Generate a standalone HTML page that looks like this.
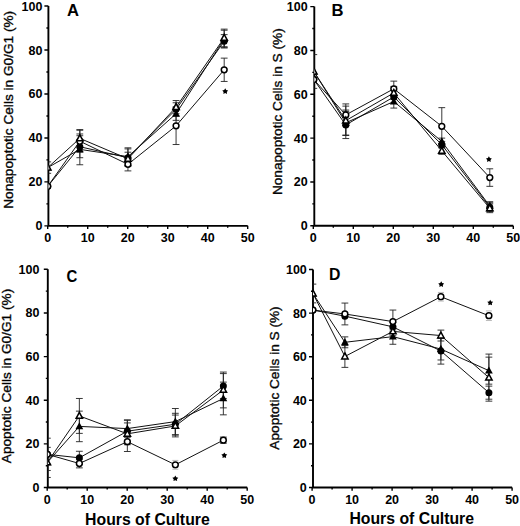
<!DOCTYPE html>
<html><head><meta charset="utf-8"><style>
html,body{margin:0;padding:0;background:#fff;}
svg{display:block;}
text{font-family:"Liberation Sans",sans-serif;fill:#000;}
.tl{font-size:12.5px;font-weight:bold;}
.yt{font-size:13.65px;stroke:#111;stroke-width:0.35px;}
.pl{font-size:15.5px;font-weight:bold;}
.xt{font-size:15.8px;font-weight:bold;}
.st{font-size:12px;font-weight:bold;}
.ax{fill:none;stroke:#000;stroke-width:1.9;}
.tk{fill:none;stroke:#000;stroke-width:1.4;}
.ln{fill:none;stroke:#111;stroke-width:1;}
.eb{fill:none;stroke:#222;stroke-width:0.9;}
.oc{fill:#fff;stroke:#000;stroke-width:1.5;}
.fc{fill:#000;stroke:none;}
.lt{fill:none;stroke:#bbb;stroke-width:1;}
</style></head><body>
<svg width="520" height="526" viewBox="0 0 520 526">
<path d="M48.4 6.05V225.85H247.7" class="ax"/>
<path d="M48.4 225.85h-4M48.4 203.87h-2M48.4 181.89h-4M48.4 159.91h-2M48.4 137.93h-4M48.4 115.95h-2M48.4 93.97h-4M48.4 71.99h-2M48.4 50.01h-4M48.4 28.03h-2M48.4 6.05h-4M47.7 225.85v3.2M67.7 225.85v2M87.7 225.85v3.2M107.7 225.85v2M127.7 225.85v3.2M147.7 225.85v2M167.7 225.85v3.2M187.7 225.85v2M207.7 225.85v3.2M227.7 225.85v2M247.7 225.85v3.2" class="tk"/>
<text x="42.4" y="230.35" class="tl" text-anchor="end">0</text>
<text x="42.4" y="186.39" class="tl" text-anchor="end">20</text>
<text x="42.4" y="142.43" class="tl" text-anchor="end">40</text>
<text x="42.4" y="98.47" class="tl" text-anchor="end">60</text>
<text x="42.4" y="54.51" class="tl" text-anchor="end">80</text>
<text x="42.4" y="10.55" class="tl" text-anchor="end">100</text>
<text x="47.7" y="242.45" class="tl" text-anchor="middle">0</text>
<text x="87.7" y="242.45" class="tl" text-anchor="middle">10</text>
<text x="127.7" y="242.45" class="tl" text-anchor="middle">20</text>
<text x="167.7" y="242.45" class="tl" text-anchor="middle">30</text>
<text x="207.7" y="242.45" class="tl" text-anchor="middle">40</text>
<text x="247.7" y="242.45" class="tl" text-anchor="middle">50</text>
<text transform="translate(12.8 109.8) rotate(-90)" class="yt" text-anchor="middle">Nonapoptotic Cells in G0/G1 (%)</text>
<text transform="translate(67 15.6) scale(1 1)" class="pl" style="font-size:16.6px">A</text>
<clipPath id="cpA"><rect x="48.4" y="-3.95" width="209.85" height="229.8"/></clipPath>
<g clip-path="url(#cpA)">
<polyline points="47.75,186.29 79.83,141.23 127.95,164.31 176.07,125.84 224.19,69.79" class="ln"/>
<polyline points="47.75,186.29 79.83,146.72 127.95,157.71 176.07,109.36 224.19,41.22" class="ln"/>
<polyline points="47.75,167.6 79.83,149.36 127.95,156.61 176.07,113.75 224.19,39.02" class="ln"/>
<polyline points="47.75,167.6 79.83,138.37 127.95,158.81 176.07,107.16 224.19,37.92" class="ln"/>
<path d="M79.83 130.24V152.22M76.43 130.24H83.23M76.43 152.22H83.23M127.95 157.71V170.9M124.55 157.71H131.35M124.55 170.9H131.35M176.07 107.16V144.52M172.67 107.16H179.47M172.67 144.52H179.47M224.19 58.14V81.44M220.79 58.14H227.59M220.79 81.44H227.59" class="eb"/>
<path d="M79.83 135.73V157.71M76.43 135.73H83.23M76.43 157.71H83.23M127.95 148.92V166.5M124.55 148.92H131.35M124.55 166.5H131.35M176.07 102.76V115.95M172.67 102.76H179.47M172.67 115.95H179.47M224.19 34.62V47.81M220.79 34.62H227.59M220.79 47.81H227.59" class="eb"/>
<path d="M79.83 133.97V164.75M76.43 133.97H83.23M76.43 164.75H83.23M127.95 147.82V165.41M124.55 147.82H131.35M124.55 165.41H131.35M176.07 107.16V120.35M172.67 107.16H179.47M172.67 120.35H179.47M224.19 30.23V47.81M220.79 30.23H227.59M220.79 47.81H227.59" class="eb"/>
<path d="M47.75 161.89V173.32M48.4 161.89H51.15M48.4 173.32H51.15M79.83 129.58V147.16M76.43 129.58H83.23M76.43 147.16H83.23M127.95 152.22V165.41M124.55 152.22H131.35M124.55 165.41H131.35M176.07 100.56V113.75M172.67 100.56H179.47M172.67 113.75H179.47M224.19 29.13V46.71M220.79 29.13H227.59M220.79 46.71H227.59" class="eb"/>
<circle cx="47.75" cy="186.29" r="3.5" class="fc"/>
<circle cx="79.83" cy="146.72" r="3.5" class="fc"/>
<circle cx="127.95" cy="157.71" r="3.5" class="fc"/>
<circle cx="176.07" cy="109.36" r="3.5" class="fc"/>
<circle cx="224.19" cy="41.22" r="3.5" class="fc"/>
<path d="M47.75 163.4L51.65 170.5H43.85Z" class="fc"/>
<path d="M79.83 145.16L83.73 152.26H75.93Z" class="fc"/>
<path d="M127.95 152.41L131.85 159.51H124.05Z" class="fc"/>
<path d="M176.07 109.55L179.97 116.65H172.17Z" class="fc"/>
<path d="M224.19 34.82L228.09 41.92H220.29Z" class="fc"/>
<circle cx="47.75" cy="186.29" r="2.9" class="oc"/>
<circle cx="79.83" cy="141.23" r="2.9" class="oc"/>
<circle cx="127.95" cy="164.31" r="2.9" class="oc"/>
<circle cx="176.07" cy="125.84" r="2.9" class="oc"/>
<circle cx="224.19" cy="69.79" r="2.9" class="oc"/>
<path d="M47.75 164.1L50.95 170H44.55Z" class="oc"/>
<path d="M79.83 134.87L83.03 140.77H76.63Z" class="oc"/>
<path d="M127.95 155.31L131.15 161.21H124.75Z" class="oc"/>
<path d="M176.07 103.66L179.27 109.56H172.87Z" class="oc"/>
<path d="M224.19 34.42L227.39 40.32H220.99Z" class="oc"/>
</g>
<polygon points="225.2,88.3 226.2,90.02 228.15,90.44 226.82,91.93 227.02,93.91 225.2,93.1 223.38,93.91 223.58,91.93 222.25,90.44 224.2,90.02" class="fc"/>
<path d="M314.3 6.6V225.8H513.3" class="ax"/>
<path d="M314.3 225.8h-4M314.3 203.88h-2M314.3 181.96h-4M314.3 160.04h-2M314.3 138.12h-4M314.3 116.2h-2M314.3 94.28h-4M314.3 72.36h-2M314.3 50.44h-4M314.3 28.52h-2M314.3 6.6h-4M313.3 225.8v3.2M333.3 225.8v2M353.3 225.8v3.2M373.3 225.8v2M393.3 225.8v3.2M413.3 225.8v2M433.3 225.8v3.2M453.3 225.8v2M473.3 225.8v3.2M493.3 225.8v2M513.3 225.8v3.2" class="tk"/>
<text x="307.7" y="230.3" class="tl" text-anchor="end">0</text>
<text x="307.7" y="186.46" class="tl" text-anchor="end">20</text>
<text x="307.7" y="142.62" class="tl" text-anchor="end">40</text>
<text x="307.7" y="98.78" class="tl" text-anchor="end">60</text>
<text x="307.7" y="54.94" class="tl" text-anchor="end">80</text>
<text x="307.7" y="11.1" class="tl" text-anchor="end">100</text>
<text x="313.3" y="242.4" class="tl" text-anchor="middle">0</text>
<text x="353.3" y="242.4" class="tl" text-anchor="middle">10</text>
<text x="393.3" y="242.4" class="tl" text-anchor="middle">20</text>
<text x="433.3" y="242.4" class="tl" text-anchor="middle">30</text>
<text x="473.3" y="242.4" class="tl" text-anchor="middle">40</text>
<text x="513.3" y="242.4" class="tl" text-anchor="middle">50</text>
<text transform="translate(282.2 111.7) rotate(-90)" class="yt" text-anchor="middle">Nonapoptotic Cells in S (%)</text>
<text transform="translate(331.6 16.2) scale(1 1)" class="pl" style="font-size:16.6px">B</text>
<clipPath id="cpB"><rect x="314.3" y="-3.4" width="209.5" height="229.2"/></clipPath>
<g clip-path="url(#cpB)">
<polyline points="313.8,79.59 345.8,114.88 393.8,88.8 441.8,126.28 489.8,177.58" class="ln"/>
<polyline points="313.8,79.59 345.8,124.97 393.8,96.91 441.8,144.7 489.8,207.17" class="ln"/>
<polyline points="313.8,71.48 345.8,122.78 393.8,101.51 441.8,141.41 489.8,206.07" class="ln"/>
<polyline points="313.8,71.48 345.8,120.58 393.8,92.96 441.8,150.83 489.8,208.26" class="ln"/>
<path d="M345.8 103.92V125.84M342.4 103.92H349.2M342.4 125.84H349.2M393.8 81.13V96.47M390.4 81.13H397.2M390.4 96.47H397.2M441.8 107.65V144.92M438.4 107.65H445.2M438.4 144.92H445.2M489.8 168.81V186.34M486.4 168.81H493.2M486.4 186.34H493.2" class="eb"/>
<path d="M345.8 111.38V138.56M342.4 111.38H349.2M342.4 138.56H349.2M393.8 90.33V103.49M390.4 90.33H397.2M390.4 103.49H397.2M441.8 141.41V147.98M438.4 141.41H445.2M438.4 147.98H445.2M489.8 202.78V211.55M486.4 202.78H493.2M486.4 211.55H493.2" class="eb"/>
<path d="M345.8 110.06V135.49M342.4 110.06H349.2M342.4 135.49H349.2M393.8 94.94V108.09M390.4 94.94H397.2M390.4 108.09H397.2M441.8 138.12V144.7M438.4 138.12H445.2M438.4 144.7H445.2M489.8 201.69V210.46M486.4 201.69H493.2M486.4 210.46H493.2" class="eb"/>
<path d="M313.8 54.6V88.36M314.3 54.6H317.2M314.3 88.36H317.2M345.8 106.12V135.05M342.4 106.12H349.2M342.4 135.05H349.2M393.8 86.39V99.54M390.4 86.39H397.2M390.4 99.54H397.2M441.8 147.33V154.34M438.4 147.33H445.2M438.4 154.34H445.2M489.8 203.88V212.65M486.4 203.88H493.2M486.4 212.65H493.2" class="eb"/>
<circle cx="313.8" cy="79.59" r="3.5" class="fc"/>
<circle cx="345.8" cy="124.97" r="3.5" class="fc"/>
<circle cx="393.8" cy="96.91" r="3.5" class="fc"/>
<circle cx="441.8" cy="144.7" r="3.5" class="fc"/>
<circle cx="489.8" cy="207.17" r="3.5" class="fc"/>
<path d="M313.8 67.28L317.7 74.38H309.9Z" class="fc"/>
<path d="M345.8 118.58L349.7 125.68H341.9Z" class="fc"/>
<path d="M393.8 97.31L397.7 104.41H389.9Z" class="fc"/>
<path d="M441.8 137.21L445.7 144.31H437.9Z" class="fc"/>
<path d="M489.8 201.87L493.7 208.97H485.9Z" class="fc"/>
<circle cx="313.8" cy="79.59" r="2.9" class="oc"/>
<circle cx="345.8" cy="114.88" r="2.9" class="oc"/>
<circle cx="393.8" cy="88.8" r="2.9" class="oc"/>
<circle cx="441.8" cy="126.28" r="2.9" class="oc"/>
<circle cx="489.8" cy="177.58" r="2.9" class="oc"/>
<path d="M313.8 67.98L317 73.88H310.6Z" class="oc"/>
<path d="M345.8 117.08L349 122.98H342.6Z" class="oc"/>
<path d="M393.8 89.46L397 95.36H390.6Z" class="oc"/>
<path d="M441.8 147.33L445 153.23H438.6Z" class="oc"/>
<path d="M489.8 204.76L493 210.66H486.6Z" class="oc"/>
</g>
<polygon points="488.9,156.3 489.9,158.02 491.85,158.44 490.52,159.93 490.72,161.91 488.9,161.1 487.08,161.91 487.28,159.93 485.95,158.44 487.9,158.02" class="fc"/>
<path d="M47.8 269.3V487.5H247.2" class="ax"/>
<path d="M47.8 487.5h-4M47.8 465.68h-2M47.8 443.86h-4M47.8 422.04h-2M47.8 400.22h-4M47.8 378.4h-2M47.8 356.58h-4M47.8 334.76h-2M47.8 312.94h-4M47.8 291.12h-2M47.8 269.3h-4M47.2 487.5v3.2M67.2 487.5v2M87.2 487.5v3.2M107.2 487.5v2M127.2 487.5v3.2M147.2 487.5v2M167.2 487.5v3.2M187.2 487.5v2M207.2 487.5v3.2M227.2 487.5v2M247.2 487.5v3.2" class="tk"/>
<text x="39.4" y="492" class="tl" text-anchor="end">0</text>
<text x="39.4" y="448.36" class="tl" text-anchor="end">20</text>
<text x="39.4" y="404.72" class="tl" text-anchor="end">40</text>
<text x="39.4" y="361.08" class="tl" text-anchor="end">60</text>
<text x="39.4" y="317.44" class="tl" text-anchor="end">80</text>
<text x="39.4" y="273.8" class="tl" text-anchor="end">100</text>
<text x="47.2" y="504.1" class="tl" text-anchor="middle">0</text>
<text x="87.2" y="504.1" class="tl" text-anchor="middle">10</text>
<text x="127.2" y="504.1" class="tl" text-anchor="middle">20</text>
<text x="167.2" y="504.1" class="tl" text-anchor="middle">30</text>
<text x="207.2" y="504.1" class="tl" text-anchor="middle">40</text>
<text x="247.2" y="504.1" class="tl" text-anchor="middle">50</text>
<text transform="translate(10.8 376) rotate(-90)" class="yt" text-anchor="middle">Apoptotic Cells in G0/G1 (%)</text>
<text transform="translate(66.5 282.1) scale(0.94 1)" class="pl" style="font-size:15.9px">C</text>
<text x="85.1" y="524.5" class="xt">Hours of Culture</text>
<clipPath id="cpC"><rect x="47.8" y="259.3" width="209.55" height="228.2"/></clipPath>
<g clip-path="url(#cpC)">
<polyline points="47.35,454.33 79.35,463.5 127.35,441.68 175.35,464.81 223.35,440.15" class="ln"/>
<polyline points="47.35,454.33 79.35,457.82 127.35,431.2 175.35,424.22 223.35,386.04" class="ln"/>
<polyline points="47.35,462.41 79.35,426.4 127.35,428.59 175.35,421.6 223.35,398.47" class="ln"/>
<polyline points="47.35,462.41 79.35,415.93 127.35,433.82 175.35,425.97 223.35,389.96" class="ln"/>
<path d="M47.35 438.19V470.48M47.8 438.19H50.75M47.8 470.48H50.75M79.35 459.13V467.86M75.95 459.13H82.75M75.95 467.86H82.75M127.35 431.86V451.5M123.95 431.86H130.75M123.95 451.5H130.75M223.35 437.1V443.21M219.95 437.1H226.75M219.95 443.21H226.75" class="eb"/>
<path d="M79.35 451.28V464.37M75.95 451.28H82.75M75.95 464.37H82.75M127.35 420.29V442.11M123.95 420.29H130.75M123.95 442.11H130.75M175.35 413.31V435.13M171.95 413.31H178.75M171.95 435.13H178.75M223.35 373.6V398.47M219.95 373.6H226.75M219.95 398.47H226.75" class="eb"/>
<path d="M79.35 411.13V441.68M75.95 411.13H82.75M75.95 441.68H82.75M127.35 419.86V437.31M123.95 419.86H130.75M123.95 437.31H130.75M175.35 408.51V434.7M171.95 408.51H178.75M171.95 434.7H178.75M223.35 382.11V414.84M219.95 382.11H226.75M219.95 414.84H226.75" class="eb"/>
<path d="M47.35 447.35V477.46M47.8 447.35H50.75M47.8 477.46H50.75M79.35 398.47V433.39M75.95 398.47H82.75M75.95 433.39H82.75M127.35 422.91V444.73M123.95 422.91H130.75M123.95 444.73H130.75M175.35 415.06V436.88M171.95 415.06H178.75M171.95 436.88H178.75M223.35 372.07V407.86M219.95 372.07H226.75M219.95 407.86H226.75" class="eb"/>
<circle cx="47.35" cy="454.33" r="3.5" class="fc"/>
<circle cx="79.35" cy="457.82" r="3.5" class="fc"/>
<circle cx="127.35" cy="431.2" r="3.5" class="fc"/>
<circle cx="175.35" cy="424.22" r="3.5" class="fc"/>
<circle cx="223.35" cy="386.04" r="3.5" class="fc"/>
<path d="M47.35 458.21L51.25 465.31H43.45Z" class="fc"/>
<path d="M79.35 422.2L83.25 429.3H75.45Z" class="fc"/>
<path d="M127.35 424.39L131.25 431.49H123.45Z" class="fc"/>
<path d="M175.35 417.4L179.25 424.5H171.45Z" class="fc"/>
<path d="M223.35 394.27L227.25 401.37H219.45Z" class="fc"/>
<circle cx="47.35" cy="454.33" r="2.9" class="oc"/>
<circle cx="79.35" cy="463.5" r="2.9" class="oc"/>
<circle cx="127.35" cy="441.68" r="2.9" class="oc"/>
<circle cx="175.35" cy="464.81" r="2.9" class="oc"/>
<circle cx="223.35" cy="440.15" r="2.9" class="oc"/>
<path d="M47.35 458.91L50.55 464.81H44.15Z" class="oc"/>
<path d="M79.35 412.43L82.55 418.33H76.15Z" class="oc"/>
<path d="M127.35 430.32L130.55 436.22H124.15Z" class="oc"/>
<path d="M175.35 422.47L178.55 428.37H172.15Z" class="oc"/>
<path d="M223.35 386.46L226.55 392.36H220.15Z" class="oc"/>
<path d="M172.35 460.41H178.35M172.35 469.21H178.35" class="lt"/>
</g>
<polygon points="175.3,475.5 176.3,477.22 178.25,477.64 176.92,479.13 177.12,481.11 175.3,480.3 173.48,481.11 173.68,479.13 172.35,477.64 174.3,477.22" class="fc"/>
<polygon points="224.3,452.4 225.3,454.12 227.25,454.54 225.92,456.03 226.12,458.01 224.3,457.2 222.48,458.01 222.68,456.03 221.35,454.54 223.3,454.12" class="fc"/>
<path d="M313 269.5V487.5H512.1" class="ax"/>
<path d="M313 487.5h-4M313 465.7h-2M313 443.9h-4M313 422.1h-2M313 400.3h-4M313 378.5h-2M313 356.7h-4M313 334.9h-2M313 313.1h-4M313 291.3h-2M313 269.5h-4M312.1 487.5v3.2M332.1 487.5v2M352.1 487.5v3.2M372.1 487.5v2M392.1 487.5v3.2M412.1 487.5v2M432.1 487.5v3.2M452.1 487.5v2M472.1 487.5v3.2M492.1 487.5v2M512.1 487.5v3.2" class="tk"/>
<text x="306.8" y="492" class="tl" text-anchor="end">0</text>
<text x="306.8" y="448.4" class="tl" text-anchor="end">20</text>
<text x="306.8" y="404.8" class="tl" text-anchor="end">40</text>
<text x="306.8" y="361.2" class="tl" text-anchor="end">60</text>
<text x="306.8" y="317.6" class="tl" text-anchor="end">80</text>
<text x="306.8" y="274" class="tl" text-anchor="end">100</text>
<text x="312.1" y="504.1" class="tl" text-anchor="middle">0</text>
<text x="352.1" y="504.1" class="tl" text-anchor="middle">10</text>
<text x="392.1" y="504.1" class="tl" text-anchor="middle">20</text>
<text x="432.1" y="504.1" class="tl" text-anchor="middle">30</text>
<text x="472.1" y="504.1" class="tl" text-anchor="middle">40</text>
<text x="512.1" y="504.1" class="tl" text-anchor="middle">50</text>
<text transform="translate(278.8 378) rotate(-90)" class="yt" text-anchor="middle">Apoptotic Cells in S (%)</text>
<text transform="translate(329 279.7) scale(1 1)" class="pl" style="font-size:15.8px">D</text>
<text x="349.4" y="523.9" class="xt">Hours of Culture</text>
<clipPath id="cpD"><rect x="313" y="259.5" width="209.9" height="228"/></clipPath>
<g clip-path="url(#cpD)">
<polyline points="312.9,310.05 344.9,313.97 392.9,321.6 440.9,296.75 488.9,315.72" class="ln"/>
<polyline points="312.9,310.05 344.9,316.15 392.9,326.83 440.9,351.03 488.9,392.67" class="ln"/>
<polyline points="312.9,293.48 344.9,342.31 392.9,336.64 440.9,349.07 488.9,370.65" class="ln"/>
<polyline points="312.9,293.48 344.9,356.48 392.9,331.41 440.9,335.55 488.9,377.63" class="ln"/>
<path d="M344.9 303.07V324.87M341.5 303.07H348.3M341.5 324.87H348.3M392.9 310.05V333.16M389.5 310.05H396.3M389.5 333.16H396.3" class="eb"/>
<path d="M392.9 322.47V331.19M389.5 322.47H396.3M389.5 331.19H396.3M440.9 337.95V364.11M437.5 337.95H444.3M437.5 364.11H444.3M488.9 386.13V399.21M485.5 386.13H492.3M485.5 399.21H492.3" class="eb"/>
<path d="M344.9 336.86V347.76M341.5 336.86H348.3M341.5 347.76H348.3M392.9 329.01V344.27M389.5 329.01H396.3M389.5 344.27H396.3M440.9 338.17V359.97M437.5 338.17H444.3M437.5 359.97H444.3M488.9 357.14V384.17M485.5 357.14H492.3M485.5 384.17H492.3" class="eb"/>
<path d="M312.9 284.11V302.85M313 284.11H316.3M313 302.85H316.3M344.9 345.58V367.38M341.5 345.58H348.3M341.5 367.38H348.3M392.9 327.05V335.77M389.5 327.05H396.3M389.5 335.77H396.3M440.9 330.1V341M437.5 330.1H444.3M437.5 341H444.3M488.9 354.08V401.17M485.5 354.08H492.3M485.5 401.17H492.3" class="eb"/>
<circle cx="312.9" cy="310.05" r="3.5" class="fc"/>
<circle cx="344.9" cy="316.15" r="3.5" class="fc"/>
<circle cx="392.9" cy="326.83" r="3.5" class="fc"/>
<circle cx="440.9" cy="351.03" r="3.5" class="fc"/>
<circle cx="488.9" cy="392.67" r="3.5" class="fc"/>
<path d="M312.9 289.28L316.8 296.38H309Z" class="fc"/>
<path d="M344.9 338.11L348.8 345.21H341Z" class="fc"/>
<path d="M392.9 332.44L396.8 339.54H389Z" class="fc"/>
<path d="M440.9 344.87L444.8 351.97H437Z" class="fc"/>
<path d="M488.9 366.45L492.8 373.55H485Z" class="fc"/>
<circle cx="312.9" cy="310.05" r="2.9" class="oc"/>
<circle cx="344.9" cy="313.97" r="2.9" class="oc"/>
<circle cx="392.9" cy="321.6" r="2.9" class="oc"/>
<circle cx="440.9" cy="296.75" r="2.9" class="oc"/>
<circle cx="488.9" cy="315.72" r="2.9" class="oc"/>
<path d="M312.9 289.98L316.1 295.88H309.7Z" class="oc"/>
<path d="M344.9 352.98L348.1 358.88H341.7Z" class="oc"/>
<path d="M392.9 327.91L396.1 333.81H389.7Z" class="oc"/>
<path d="M440.9 332.05L444.1 337.95H437.7Z" class="oc"/>
<path d="M488.9 374.13L492.1 380.03H485.7Z" class="oc"/>
<path d="M437.9 292.45H443.9M437.9 301.05H443.9" class="lt"/>
<path d="M485.9 310.92H491.9M485.9 320.52H491.9" class="lt"/>
</g>
<polygon points="441.2,281.3 442.2,283.02 444.15,283.44 442.82,284.93 443.02,286.91 441.2,286.1 439.38,286.91 439.58,284.93 438.25,283.44 440.2,283.02" class="fc"/>
<polygon points="490.2,299.7 491.2,301.42 493.15,301.84 491.82,303.33 492.02,305.31 490.2,304.5 488.38,305.31 488.58,303.33 487.25,301.84 489.2,301.42" class="fc"/>
</svg>
</body></html>
